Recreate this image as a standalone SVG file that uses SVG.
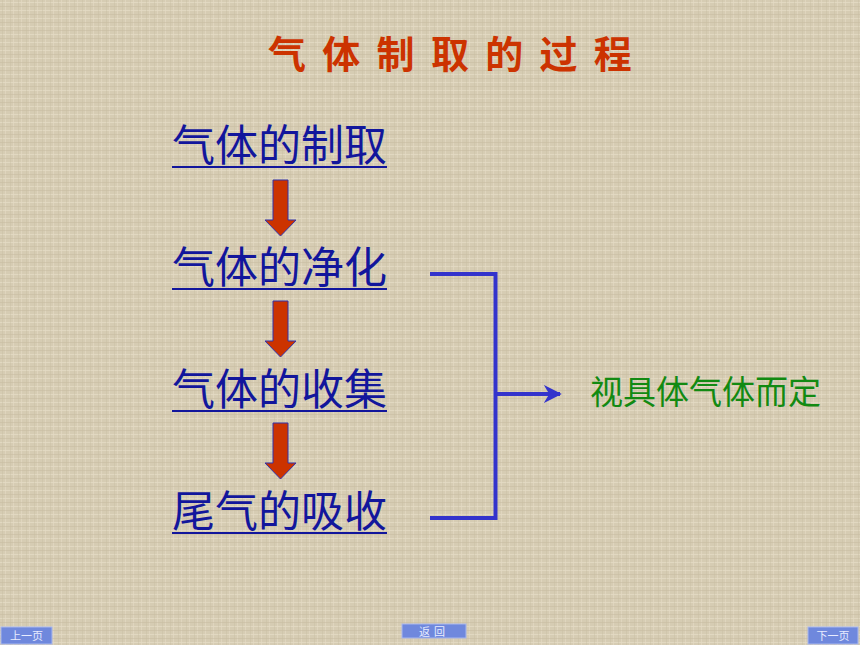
<svg xmlns="http://www.w3.org/2000/svg" width="860" height="645" viewBox="0 0 860 645">
<defs>
<pattern id="tex" width="8" height="8" patternUnits="userSpaceOnUse">
<rect width="8" height="8" fill="#d6ccb3"/>
<rect x="0" y="2" width="8" height="1" fill="#e6ddc8" opacity="0.7"/>
<rect x="5" y="0" width="1" height="8" fill="#e4dbc5" opacity="0.6"/>
<rect x="0" y="6" width="8" height="1" fill="#c5baa0" opacity="0.5"/>
<rect x="2" y="0" width="1" height="8" fill="#c8bda3" opacity="0.4"/>
</pattern>
<marker id="ah" viewBox="0 0 10 10" refX="9" refY="5" markerWidth="4.5" markerHeight="4.5" orient="auto" markerUnits="strokeWidth">
<path d="M0,0 L10,5 L0,10 L3,5 Z" fill="#3333cc"/>
</marker>
<style>
.t{font-family:"Noto Sans CJK SC","Noto Sans",sans-serif;}
.step{font-size:43px;fill:#12169c;}
.ul{stroke:#12169c;stroke-width:2.2;}
.dn{fill:#cc3300;stroke:#3333aa;stroke-width:1;}
.br{fill:none;stroke:#3333cc;stroke-width:4;}
.btn{fill:#6f88dd;stroke:#a9b8ee;stroke-width:1;}
.bt{font-size:11px;fill:#e8ecff;}
</style>
</defs>
<rect width="860" height="645" fill="url(#tex)"/>

<g id="title">
<text class="t" x="268" y="68" font-size="38" font-weight="bold" fill="#cc3300" letter-spacing="16.3">气体制取的过程</text>
</g>

<g id="node1">
<text class="t step" x="172" y="161">气体的制取</text>
<line class="ul" x1="172" y1="167" x2="387" y2="167"/>
</g>
<g id="node2">
<text class="t step" x="172" y="283">气体的净化</text>
<line class="ul" x1="172" y1="289" x2="387" y2="289"/>
</g>
<g id="node3">
<text class="t step" x="172" y="405">气体的收集</text>
<line class="ul" x1="172" y1="411" x2="387" y2="411"/>
</g>
<g id="node4">
<text class="t step" x="172" y="527">尾气的吸收</text>
<line class="ul" x1="172" y1="533" x2="387" y2="533"/>
</g>
<g id="note">
<text class="t" x="590" y="404" font-size="33" fill="#128a12">视具体气体而定</text>
</g>

<g id="connectors">
<path class="dn" d="M273,180 H288 V220 H296 L280.5,236 L265,220 H273 Z"/>
<path class="dn" d="M273,301 H288 V341 H296 L280.5,357 L265,341 H273 Z"/>
<path class="dn" d="M273,423 H288 V463 H296 L280.5,479 L265,463 H273 Z"/>
<path class="br" d="M430,274 H495.5 V518 H430"/>
<line class="br" x1="495.5" y1="394" x2="560" y2="394" marker-end="url(#ah)"/>
</g>

<g id="btn-prev">
<rect class="btn" x="1" y="627" width="51" height="17"/>
<text class="t bt" x="26.5" y="640" text-anchor="middle">上一页</text>
</g>
<g id="btn-back">
<rect class="btn" x="402" y="624" width="64" height="14"/>
<text class="t bt" x="434" y="636" text-anchor="middle" font-size="12" letter-spacing="4">返回</text>
</g>
<g id="btn-next">
<rect class="btn" x="808" y="627" width="50" height="17"/>
<text class="t bt" x="833" y="640" text-anchor="middle">下一页</text>
</g>
</svg>
